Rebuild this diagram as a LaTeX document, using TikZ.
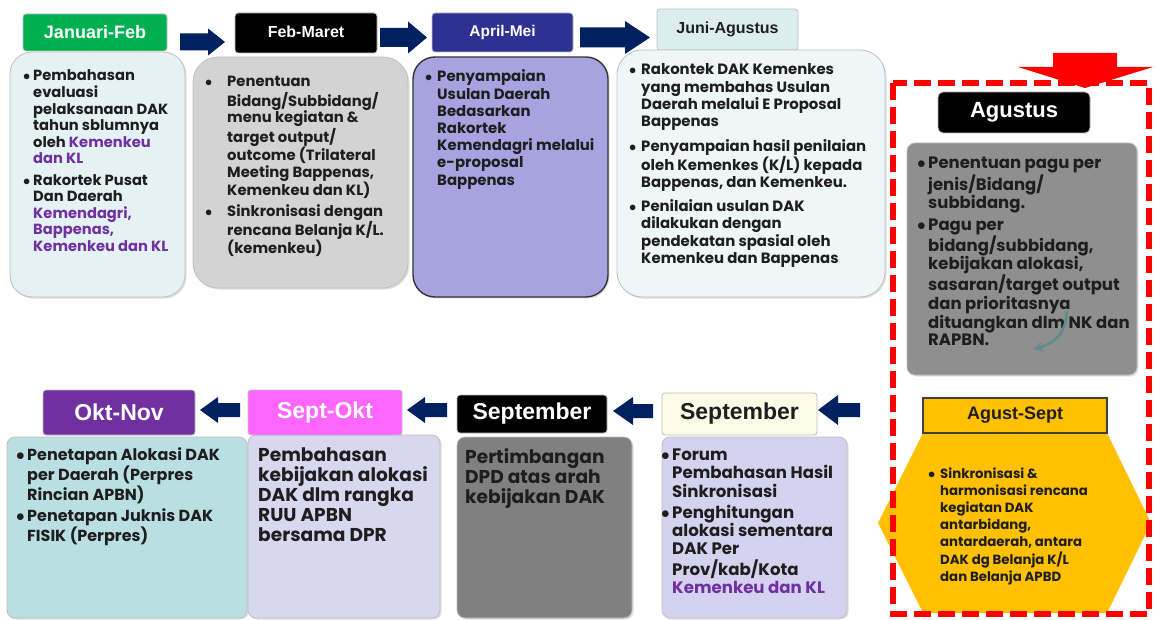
\documentclass[tikz,border=0pt]{standalone}
\usepackage{fontspec}
\usetikzlibrary{shadows,arrows.meta}
\newfontfamily\bodyfont{Poppins}
\newfontfamily\hdfont{Liberation Sans}
\definecolor{navy}{HTML}{002060}
\definecolor{kpurple}{HTML}{7030A0}
\definecolor{ink}{HTML}{1E1E1E}
\definecolor{cgreen}{HTML}{00B050}
\definecolor{cindigo}{HTML}{2E3192}
\definecolor{cjuni}{HTML}{DCEDF0}
\definecolor{fone}{HTML}{E5F2F4}
\definecolor{ftwo}{HTML}{D3D3D3}
\definecolor{fthree}{HTML}{A7A3E1}
\definecolor{ffour}{HTML}{EEF6F8}
\definecolor{fagus}{HTML}{8F8F8F}
\definecolor{amber}{HTML}{FFC000}
\definecolor{cream}{HTML}{FBFBE8}
\definecolor{fseplight}{HTML}{D4D2EF}
\definecolor{fsepdark}{HTML}{808080}
\definecolor{pink}{HTML}{FF66FF}
\definecolor{fsepokt}{HTML}{D9D7F0}
\definecolor{foktnov}{HTML}{B9DFE3}
\definecolor{curl}{HTML}{5E8B8E}
\newcommand\pur[1]{\textcolor{kpurple}{#1}}
\newcommand\bul{$\bullet$}
% block arrow: start x, head start x, tip x, centre y, body half height, head half height
\newcommand\blockarrow[6]{%
  \fill[navy] (#1,#4-#5) -- (#2,#4-#5) -- (#2,#4-#6) -- (#3,#4) -- (#2,#4+#6)
    -- (#2,#4+#5) -- (#1,#4+#5) -- cycle;}
\tikzset{
  panel/.style={draw=black!25, line width=0.8pt,
    drop shadow={opacity=0.25, shadow xshift=1.5pt, shadow yshift=-1.5pt}},
  hd/.style={rounded corners=3pt, draw=black!25, line width=0.8pt, inner sep=0pt,
    font=\hdfont\bfseries, text=white},
  txt/.style={inner sep=0pt, anchor=base west, text=ink, align=left},
}
\begin{document}
\begin{tikzpicture}[x=1pt,y=-1pt]
\useasboundingbox (0,0) rectangle (1155,620);
\fill[white] (0,0) rectangle (1155,620);

% ---------- top row ----------
\node[hd, fill=cgreen, minimum width=144pt, minimum height=37pt,
  font=\hdfont\bfseries\fontsize{18}{20}\selectfont] (h1) at (95,32.5) {Januari-Feb};
\node[hd, fill=black, minimum width=142pt, minimum height=40pt,
  font=\hdfont\bfseries\fontsize{16}{18}\selectfont] (h2) at (306,33) {\raisebox{3pt}{Feb-Maret}};
\node[hd, fill=cindigo, minimum width=141pt, minimum height=39pt,
  font=\hdfont\bfseries\fontsize{15.5}{18}\selectfont] (h3) at (502.5,32.5) {\raisebox{3pt}{April-Mei}};
\node[hd, fill=cjuni, text=ink, minimum width=141pt, minimum height=41pt,
  font=\hdfont\bfseries\fontsize{16}{18}\selectfont] (h4) at (727.5,29.5) {\raisebox{3pt}{Juni-Agustus}};

\draw[panel, fill=fone, rounded corners=22pt] (10,52) rectangle (185,297);
\draw[panel, fill=ftwo, rounded corners=25pt] (193,57) rectangle (408,288);
\draw[panel, draw=black!80, line width=1.4pt, fill=fthree, rounded corners=22pt] (413,57) rectangle (608,297);
\draw[panel, fill=ffour, rounded corners=25pt] (617,50) rectangle (885,297);

\blockarrow{180}{208}{225}{42}{8.5}{13.5}
\blockarrow{380}{408}{427}{37.5}{9.5}{16}
\blockarrow{580}{625}{650}{37.5}{10}{16.5}

\node[txt, font=\bodyfont\bfseries\fontsize{14.7}{16.5}\selectfont] (t1) at (23,81) {%
\begin{tabular}[t]{@{}p{10pt}@{}l@{}}
\bul & Pembahasan\\
& evaluasi\\
& pelaksanaan DAK\\
& tahun sblumnya\\
& oleh \pur{Kemenkeu}\\
& \pur{dan KL}\\[5pt]
\bul & Rakortek Pusat\\
& Dan Daerah\\
& \pur{Kemendagri,}\\
& \pur{Bappenas,}\\
& \pur{Kemenkeu dan KL}
\end{tabular}};

\node[txt, font=\bodyfont\bfseries\fontsize{14.8}{16.7}\selectfont] (t2) at (205,87) {%
\begin{tabular}[t]{@{}p{22pt}@{}l@{}}
\bul & Penentuan\\
& Bidang/Subbidang/\\
& menu kegiatan \&\\
& target output/\\
& outcome (Trilateral\\
& Meeting Bappenas,\\
& Kemenkeu dan KL)\\[3.3pt]
\bul & Sinkronisasi dengan\\
& rencana Belanja K/L.\\
& (kemenkeu)
\end{tabular}};

\node[txt, font=\bodyfont\bfseries\fontsize{14.9}{17.2}\selectfont] (t3) at (425,82) {%
\begin{tabular}[t]{@{}p{12pt}@{}l@{}}
\bul & Penyampaian\\
& Usulan Daerah\\
& Bedasarkan\\
& Rakortek\\
& Kemendagri melalui\\
& e-proposal\\
& Bappenas
\end{tabular}};

\node[txt, font=\bodyfont\bfseries\fontsize{14.9}{17.3}\selectfont] (t4) at (629,75) {%
\begin{tabular}[t]{@{}p{12pt}@{}l@{}}
\bul & Rakontek DAK Kemenkes\\
& yang membahas Usulan\\
& Daerah melalui E Proposal\\
& Bappenas\\[7pt]
\bul & Penyampaian hasil penilaian\\
& oleh Kemenkes (K/L) kepada\\
& Bappenas, dan Kemenkeu.\\[6.5pt]
\bul & Penilaian usulan DAK\\
& dilakukan dengan\\
& pendekatan spasial oleh\\
& Kemenkeu dan Bappenas
\end{tabular}};

% ---------- right column ----------
\fill[amber] (878,523) -- (923,433) -- (1107,433) -- (1151,523) -- (1107,613) -- (923,613) -- cycle;
\node[hd, fill=amber, draw=black!75, line width=1.2pt, rounded corners=0pt, text=ink,
  minimum width=184pt, minimum height=35pt,
  font=\hdfont\bfseries\fontsize{18}{20}\selectfont] (h6) at (1015,415.5) {Agust-Sept};
\node[txt, font=\bodyfont\bfseries\fontsize{13.3}{17.2}\selectfont] (t6) at (928,478) {%
\begin{tabular}[t]{@{}p{12pt}@{}l@{}}
\bul & Sinkronisasi \&\\
& harmonisasi rencana\\
& kegiatan DAK\\
& antarbidang,\\
& antardaerah, antara\\
& DAK dg Belanja K/L\\
& dan Belanja APBD
\end{tabular}};

\draw[panel, fill=fagus, rounded corners=8pt] (907,143) rectangle (1137,375);
\node[hd, fill=black, minimum width=152pt, minimum height=41pt, rounded corners=5pt,
  font=\hdfont\bfseries\fontsize{22}{24}\selectfont] (h5) at (1014,112.5) {Agustus};
\node[txt, font=\bodyfont\bfseries\fontsize{16.5}{17.8}\selectfont] (t5) at (917,169) {%
\begin{tabular}[t]{@{}p{11pt}@{}l@{}}
\bul & Penentuan pagu per\\
& jenis/Bidang/\\
& subbidang.\\[4pt]
\bul & Pagu per\\
& bidang/subbidang,\\
& kebijakan alokasi,\\
& sasaran/target output\\
& dan prioritasnya\\
& dituangkan dlm NK dan\\
& RAPBN.
\end{tabular}};
\draw[curl, line width=2.6pt, -{Stealth[length=9pt,width=11pt]}]
  (1067,311) .. controls (1066,333) and (1055,343) .. (1034,349);

\draw[red, line width=6pt, dash pattern=on 17pt off 7pt] (893,83) rectangle (1149,614);
\fill[red] (1053,53) -- (1117,53) -- (1117,67) -- (1153,67) -- (1085,88) -- (1018,67) -- (1053,67) -- cycle;

% ---------- bottom row ----------
\draw[panel, fill=foktnov, rounded corners=8pt] (7,437) rectangle (247,618);
\draw[panel, fill=fsepokt, rounded corners=8pt] (248,435) rectangle (440,618);
\draw[panel, fill=fsepdark, rounded corners=8pt] (457,437) rectangle (632,618);
\draw[panel, fill=fseplight, rounded corners=8pt] (662,437) rectangle (847,618);

\node[hd, fill=cream, text=ink, minimum width=155pt, minimum height=42pt,
  font=\hdfont\bfseries\fontsize{23}{25}\selectfont] (h7) at (739.5,414) {September};
\node[hd, fill=black, minimum width=150pt, minimum height=38pt,
  font=\hdfont\bfseries\fontsize{23}{25}\selectfont] (h8) at (532,414) {September};
\node[hd, fill=pink, minimum width=154pt, minimum height=45pt,
  font=\hdfont\bfseries\fontsize{23}{25}\selectfont] (h9) at (325,412.5) {Sept-Okt};
\node[hd, fill=kpurple, minimum width=152pt, minimum height=45pt,
  font=\hdfont\bfseries\fontsize{23}{25}\selectfont] (h10) at (119,412.5) {Okt-Nov};

\blockarrow{860}{838}{818}{410}{7}{15}
\blockarrow{653}{633}{613}{411}{7}{14}
\blockarrow{447}{425}{407}{410}{7}{13}
\blockarrow{240}{218}{200}{410}{7}{13}

\node[txt, font=\bodyfont\bfseries\fontsize{16.6}{18}\selectfont] (t7) at (661,460) {%
\begin{tabular}[t]{@{}p{11pt}@{}l@{}}
\bul & Forum\\
& Pembahasan Hasil\\
& Sinkronisasi\\[2pt]
\bul & Penghitungan\\
& alokasi sementara\\
& DAK Per\\
& Prov/kab/Kota\\
& \pur{Kemenkeu dan KL}
\end{tabular}};

\node[txt, font=\bodyfont\bfseries\fontsize{18.6}{20}\selectfont] (t8) at (465,463) {%
\begin{tabular}[t]{@{}l@{}}
Pertimbangan\\
DPD atas arah\\
kebijakan DAK
\end{tabular}};

\node[txt, font=\bodyfont\bfseries\fontsize{18.6}{20}\selectfont] (t9) at (258,461) {%
\begin{tabular}[t]{@{}l@{}}
Pembahasan\\
kebijakan alokasi\\
DAK dlm rangka\\
RUU APBN\\
bersama DPR
\end{tabular}};

\node[txt, font=\bodyfont\bfseries\fontsize{16}{18}\selectfont] (t10) at (16,460) {%
\begin{tabular}[t]{@{}p{11pt}@{}l@{}}
\bul & Penetapan Alokasi DAK\\
& per Daerah (Perpres\\
& Rincian APBN)\\[3.7pt]
\bul & Penetapan Juknis DAK\\
& FISIK (Perpres)
\end{tabular}};
\end{tikzpicture}
\end{document}
